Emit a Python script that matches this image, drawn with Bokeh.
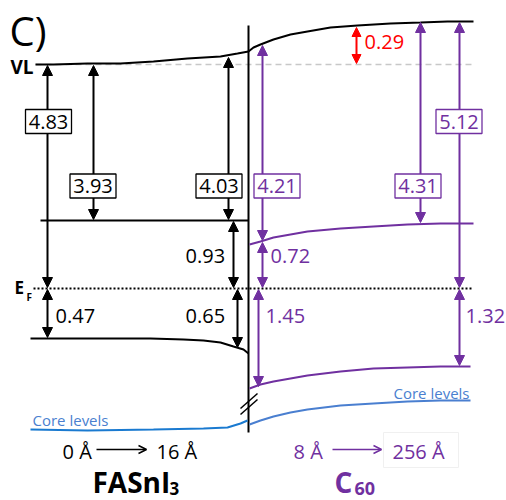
from bokeh.plotting import figure
from bokeh.models import Range1d, Arrow, NormalHead, OpenHead, ColumnDataSource
from bokeh.embed import file_html
from bokeh.resources import INLINE
from bokeh.core.properties import value

# ---------------- data (energies in eV, as labelled in the diagram) ----------------
fasni_gaps = ["4.83", "3.93", "4.03", "0.93", "0.47", "0.65"]
c60_gaps = ["4.21", "0.72", "1.45", "4.31", "5.12", "1.32"]
vl_shift = ["0.29"]
fasni_boxed = [True, True, True, False, False, False]
c60_boxed = [True, False, False, True, True, False]
thickness_left = ["0 Å", "16 Å"]
thickness_right = ["8 Å", "256 Å"]

# schematic level curves (diagram units, y measured downward)
vl_left_x = [35, 53, 87, 120, 153, 187, 220, 237, 248]
vl_left_y = [64, 64, 63, 63, 61, 58, 56, 53, 51]
vl_right_x = [248, 253, 260, 273, 290, 307, 330, 357, 390, 420, 447, 473]
vl_right_y = [51, 47, 44, 39, 34, 31, 27, 25, 23, 22, 21, 21]
cbm_left_x = [40, 248]
cbm_left_y = [220, 220]
vbm_left_x = [30, 150, 183, 203, 220, 233, 243, 248]
vbm_left_y = [338, 338, 339, 340, 342, 346, 349, 353]
core_left_x = [30, 87, 153, 203, 227, 240, 247]
core_left_y = [429, 430, 429, 428, 427, 423, 420]
lumo_x = [249, 260, 273, 290, 307, 340, 373, 407, 440, 473]
lumo_y = [244, 241, 237, 234, 231, 228, 226, 224, 223, 223]
homo_x = [249, 260, 273, 290, 307, 340, 373, 407, 440, 470]
homo_y = [388, 384, 381, 378, 375, 371, 368, 367, 366, 366]
core_right_x = [249, 260, 273, 290, 307, 340, 373, 407, 440, 470]
core_right_y = [424, 420, 416, 412, 409, 405, 403, 401, 400, 400]
ef_y = 288
vl_ref_y = 64

# ---------------- styling / layout ----------------
FONT = "Open Sans"
BLACK = "#000000"
PURPLE = "#7030A0"
RED = "#FF0000"
BLUE_L = "#1A7AD0"
BLUE_R = "#4A7FD0"
GRAY = "#C8C8C8"

p = figure(width=506, height=500, output_backend="svg", toolbar_location=None,
           x_range=Range1d(0, 506), y_range=Range1d(500, 0),
           min_border=0, min_border_left=0, min_border_right=0,
           min_border_top=0, min_border_bottom=0)
p.axis.visible = False
p.grid.visible = False
p.outline_line_color = None
p.background_fill_color = "white"
p.border_fill_color = "white"


def txt(x, y, t, size, color, align="left", bold=False):
    p.text(x=[x], y=[y], text=[t], text_align=align, text_baseline="middle",
           text_font=value(FONT), text_font_size=size,
           text_font_style="bold" if bold else "normal", text_color=color,
           level="overlay")


# reference lines
p.line([35, 473], [vl_ref_y, vl_ref_y], line_color=GRAY, line_width=1.5, line_dash="6 4")
p.line([33, 473], [ef_y, ef_y], line_color=BLACK, line_width=2, line_dash="2 2")

# interface
p.line([248, 248], [25, 432], line_color=BLACK, line_width=2)
p.line([240, 257], [414, 399], line_color=BLACK, line_width=1.5)
p.line([240, 257], [408, 393], line_color=BLACK, line_width=1.5)

# levels
p.line(vl_left_x, vl_left_y, line_color=BLACK, line_width=2)
p.line(vl_right_x, vl_right_y, line_color=BLACK, line_width=2)
p.line(cbm_left_x, cbm_left_y, line_color=BLACK, line_width=2)
p.line(vbm_left_x, vbm_left_y, line_color=BLACK, line_width=2)
p.line(core_left_x, core_left_y, line_color=BLUE_L, line_width=2)
p.line(lumo_x, lumo_y, line_color=PURPLE, line_width=2)
p.line(homo_x, homo_y, line_color=PURPLE, line_width=2)
p.line(core_right_x, core_right_y, line_color=BLUE_R, line_width=2)


def darrow(x, y0, y1, color, size=10, lw=2):
    src = ColumnDataSource(dict(x0=[x], y0=[y0], x1=[x], y1=[y1]))
    p.add_layout(Arrow(x_start="x0", y_start="y0", x_end="x1", y_end="y1", source=src,
                       line_color=color, line_width=lw,
                       start=NormalHead(size=size, fill_color=color, line_color=color, line_width=1),
                       end=NormalHead(size=size, fill_color=color, line_color=color, line_width=1)))


# FASnI3 arrows
left_arrows = [(47, 65, 287), (93, 65, 219), (228, 57, 219), (233, 221, 287), (47, 289, 337), (237, 289, 347)]
for a in left_arrows:
    darrow(a[0], a[1], a[2], BLACK)
# C60 arrows
right_arrows = [(262, 45, 240), (262, 242, 287), (258, 289, 386), (420, 22, 222), (459, 22, 287), (459, 289, 365)]
for a in right_arrows:
    darrow(a[0], a[1], a[2], PURPLE)
darrow(356, 27, 63, RED, size=9)

# labels: (x, y-centre)
left_pos = [(48, 121), (92.5, 185.5), (218.5, 185.5), (185, 255), (55, 315), (185, 315)]
right_pos = [(276.5, 185.5), (270, 255), (265, 315), (417.5, 185.5), (458.5, 121), (465, 315)]


def put_labels(texts, pos, flags, color):
    for t, (x, y), f in zip(texts, pos, flags):
        if f:
            p.rect(x=[x], y=[y], width=46, height=24, fill_color="white",
                   line_color=color, line_width=1.3, level="overlay")
            txt(x, y, t, "20px", color, align="center")
        else:
            txt(x, y, t, "20px", color)


put_labels(fasni_gaps, left_pos, fasni_boxed, BLACK)
put_labels(c60_gaps, right_pos, c60_boxed, PURPLE)
txt(364, 41, vl_shift[0], "20px", RED)

# side labels
txt(9, 30, "C)", "40px", BLACK)
txt(33, 66, "VL", "19px", BLACK, align="right", bold=True)
txt(14, 287, "E", "17px", BLACK, bold=True)
txt(26, 296, "F", "10px", BLACK, bold=True)

txt(32, 419, "Core levels", "15px", BLUE_R)
txt(469, 392, "Core levels", "15px", BLUE_R, align="right")

# thickness ranges
txt(62, 451, thickness_left[0], "20px", BLACK)
txt(156, 451, thickness_left[1], "20px", BLACK)
p.add_layout(Arrow(x_start=96, y_start=449, x_end=146, y_end=449, line_color=BLACK, line_width=1.5,
                   end=OpenHead(size=8, line_color=BLACK, line_width=1.5)))
p.rect(x=[420.5], y=[449.5], width=75, height=35, fill_color=None, line_color="#F0F0F0", line_width=1)
txt(293, 451, thickness_right[0], "20px", PURPLE)
txt(392, 451, thickness_right[1], "20px", PURPLE)
p.add_layout(Arrow(x_start=332, y_start=449, x_end=381, y_end=449, line_color=PURPLE, line_width=1.5,
                   end=OpenHead(size=8, line_color=PURPLE, line_width=1.5)))

# material names
txt(92, 481, "FASnI", "28px", BLACK, bold=True)
txt(169, 488, "3", "17px", BLACK, bold=True)
txt(334, 481, "C", "28px", PURPLE, bold=True)
txt(354, 488, "60", "18px", PURPLE, bold=True)

open("out.html", "w").write(file_html(p, INLINE))
